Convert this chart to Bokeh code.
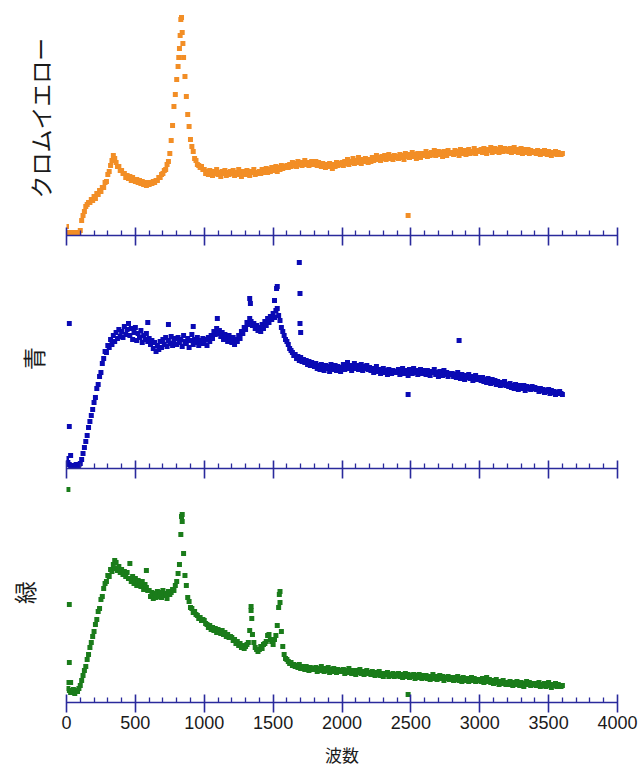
from bokeh.plotting import figure
from bokeh.layouts import column
from bokeh.models import Range1d, FixedTicker
from bokeh.embed import file_html
from bokeh.resources import INLINE

# ---------------- data ----------------
WAVENUMBER = list(range(0, 3601, 10))          # sampling grid (wavenumber)
X_TICKS = [0, 500, 1000, 1500, 2000, 2500, 3000, 3500, 4000]
X_TICK_LABELS = ["0", "500", "1000", "1500", "2000", "2500", "3000", "3500", "4000"]
X_MINOR_TICKS = [t for t in range(0, 4001, 100) if t % 500 != 0]
X_LABEL = "波数"
SERIES_LABELS = ["クロムイエロー", "青", "緑"]

CHROME_YELLOW = (
    [9, 2, 3, 1, 2, 3, 2, 1, 3, 2, 5, 15, 20, 24, 29, 31, 33, 33, 36, 35]
    + [39, 37, 42, 41, 45, 44, 48, 48, 53, 54, 61, 64, 70, 75, 80, 77, 73, 69, 69, 65]
    + [65, 62, 62, 58, 60, 57, 59, 55, 58, 56, 54, 56, 53, 55, 52, 54, 51, 53, 50, 53]
    + [51, 53, 52, 54, 53, 55, 55, 58, 58, 61, 62, 65, 66, 71, 74, 82, 95, 110, 129, 141]
    + [156, 169, 187, 216, 203, 178, 159, 139, 121, 109, 96, 89, 84, 77, 75, 71, 70, 68, 69, 66]
    + [66, 62, 64, 61, 65, 63, 60, 64, 62, 66, 61, 63, 59, 64, 62, 65, 60, 63, 61, 64]
    + [62, 65, 60, 63, 61, 66, 62, 59, 64, 63, 61, 65, 62, 60, 64, 63, 66, 61, 63, 62]
    + [64, 62, 66, 63, 65, 67, 63, 66, 64, 68, 65, 67, 69, 64, 68, 66, 70, 67, 69, 68]
    + [70, 68, 71, 69, 73, 70, 72, 69, 74, 71, 73, 70, 72, 75, 71, 73, 70, 72, 74, 71]
    + [72, 74, 70, 73, 71, 69, 72, 70, 68, 71, 69, 72, 70, 67, 71, 69, 73, 70, 72, 71]
    + [73, 70, 74, 72, 76, 71, 74, 73, 77, 72, 75, 73, 78, 74, 72, 76, 74, 77, 75, 73]
    + [76, 74, 78, 75, 77, 80, 76, 78, 75, 79, 77, 80, 76, 78, 81, 77, 79, 76, 80, 78]
    + [79, 77, 81, 78, 80, 76, 82, 79, 81, 78, 80, 83, 79, 81, 77, 82, 80, 78, 82, 80]
    + [81, 84, 79, 82, 80, 83, 81, 85, 80, 82, 84, 81, 83, 79, 84, 82, 80, 85, 82, 83]
    + [83, 81, 85, 82, 84, 80, 86, 83, 82, 85, 81, 84, 86, 82, 84, 83, 87, 82, 84, 85]
    + [84, 86, 83, 87, 84, 82, 86, 85, 88, 83, 85, 87, 84, 86, 83, 88, 85, 84, 87, 85]
    + [86, 84, 87, 83, 85, 88, 84, 86, 83, 85, 87, 82, 86, 84, 83, 86, 82, 85, 84, 83]
    + [84, 82, 85, 83, 81, 84, 82, 85, 83, 81, 84, 82, 80, 83, 82, 84, 81, 83, 82, 81]
    + [82]
)
CHROME_YELLOW_EXTRA_X = [815, 825, 835, 845, 2480]
CHROME_YELLOW_EXTRA_Y = [178, 200, 218, 192, 20]

BLUE = (
    [10, 6, 4, 3, 2, 3, 2, 4, 3, 4, 5, 9, 15, 21, 27, 33, 41, 47, 53, 59]
    + [66, 71, 80, 84, 92, 96, 105, 110, 117, 116, 123, 121, 129, 124, 133, 127, 136, 130, 139, 132]
    + [137, 131, 142, 134, 139, 145, 133, 140, 129, 136, 141, 128, 135, 131, 138, 126, 133, 129, 135, 127]
    + [130, 124, 128, 120, 126, 117, 123, 119, 127, 121, 129, 124, 131, 122, 128, 125, 132, 123, 127, 130]
    + [124, 131, 126, 129, 122, 133, 127, 125, 130, 121, 128, 134, 124, 129, 126, 131, 123, 128, 125, 130]
    + [125, 129, 123, 131, 127, 133, 130, 137, 134, 140, 135, 138, 132, 136, 129, 134, 131, 127, 133, 129]
    + [126, 131, 124, 129, 127, 133, 130, 137, 135, 141, 139, 146, 144, 150, 147, 143, 145, 140, 143, 138]
    + [141, 137, 144, 140, 147, 143, 150, 146, 152, 149, 155, 151, 158, 160, 153, 148, 141, 137, 133, 129]
    + [127, 124, 120, 118, 116, 113, 114, 110, 112, 108, 111, 107, 109, 106, 108, 104, 107, 103, 106, 104]
    + [102, 105, 100, 103, 99, 104, 101, 98, 103, 100, 102, 97, 104, 99, 101, 103, 98, 102, 100, 97]
    + [101, 104, 99, 102, 106, 100, 103, 98, 102, 105, 100, 103, 99, 101, 104, 98, 102, 100, 103, 99]
    + [101, 98, 100, 96, 99, 102, 97, 99, 95, 98, 100, 96, 98, 94, 99, 97, 95, 98, 96, 97]
    + [96, 99, 94, 97, 100, 95, 98, 96, 93, 99, 97, 95, 100, 96, 98, 94, 97, 99, 95, 98]
    + [97, 94, 98, 95, 93, 97, 96, 99, 94, 96, 92, 97, 95, 93, 98, 94, 96, 92, 95, 94]
    + [95, 92, 94, 91, 96, 93, 90, 94, 92, 89, 93, 91, 94, 90, 92, 88, 91, 93, 89, 91]
    + [90, 88, 91, 87, 89, 86, 90, 88, 85, 89, 86, 88, 84, 87, 85, 83, 86, 84, 87, 83]
    + [84, 82, 85, 81, 83, 80, 84, 82, 79, 83, 81, 80, 83, 78, 82, 80, 81, 79, 82, 80]
    + [81, 79, 80, 77, 80, 78, 79, 76, 78, 77, 79, 75, 78, 76, 77, 74, 76, 75, 77, 75]
    + [74]
)
BLUE_EXTRA_X = [20, 20, 30, 590, 740, 920, 1095, 1330, 1335, 1510, 1525, 1530, 1690, 1695, 1695, 1700, 2480, 2850]
BLUE_EXTRA_Y = [145, 42, 13, 146, 144, 142, 150, 170, 165, 168, 180, 182, 206, 175, 145, 136, 74, 128]

GREEN = (
    [20, 14, 12, 10, 11, 13, 9, 12, 11, 14, 17, 22, 27, 32, 36, 43, 48, 55, 60, 66]
    + [71, 78, 83, 91, 94, 103, 106, 114, 119, 121, 127, 126, 133, 131, 138, 134, 140, 132, 136, 130]
    + [133, 128, 131, 126, 130, 124, 139, 121, 126, 119, 124, 117, 122, 120, 116, 121, 113, 118, 115, 112]
    + [112, 106, 110, 104, 109, 105, 111, 106, 110, 105, 112, 107, 109, 104, 111, 108, 110, 113, 112, 117]
    + [121, 129, 138, 168, 181, 149, 127, 117, 105, 101, 95, 94, 90, 91, 88, 87, 84, 85, 82, 83]
    + [82, 79, 78, 75, 77, 73, 75, 72, 74, 70, 73, 71, 69, 72, 68, 70, 66, 68, 65, 66]
    + [65, 62, 63, 59, 61, 57, 59, 55, 57, 54, 56, 58, 60, 72, 96, 68, 60, 55, 53, 51]
    + [53, 56, 54, 58, 59, 61, 67, 68, 63, 61, 58, 63, 67, 77, 95, 111, 71, 56, 48, 44]
    + [43, 41, 39, 40, 37, 38, 36, 37, 35, 38, 34, 36, 35, 33, 36, 34, 32, 35, 33, 34]
    + [33, 35, 31, 34, 32, 36, 33, 31, 34, 32, 35, 30, 33, 31, 34, 32, 30, 33, 31, 32]
    + [31, 33, 29, 32, 30, 34, 31, 29, 32, 30, 28, 32, 30, 33, 29, 31, 28, 30, 32, 29]
    + [30, 28, 31, 29, 27, 30, 28, 31, 27, 29, 26, 29, 28, 30, 26, 28, 27, 29, 26, 28]
    + [27, 29, 26, 28, 25, 27, 29, 26, 28, 25, 27, 26, 28, 24, 27, 25, 28, 26, 24, 27]
    + [25, 27, 24, 26, 23, 25, 28, 24, 26, 23, 25, 27, 24, 26, 22, 25, 24, 26, 23, 25]
    + [24, 22, 25, 23, 26, 22, 24, 21, 25, 23, 22, 24, 21, 23, 25, 22, 24, 21, 23, 22]
    + [23, 21, 24, 20, 22, 25, 21, 23, 20, 22, 19, 21, 23, 20, 18, 21, 19, 22, 20, 18]
    + [20, 18, 21, 19, 17, 20, 18, 21, 19, 17, 20, 18, 16, 19, 21, 18, 20, 17, 19, 18]
    + [19, 17, 18, 20, 16, 18, 17, 19, 16, 18, 20, 17, 15, 18, 17, 19, 16, 18, 17, 16]
    + [17]
)
GREEN_EXTRA_X = [10, 20, 20, 30, 350, 580, 835, 840, 1340, 1345, 1545, 1550, 2480]
GREEN_EXTRA_Y = [213, 98, 40, 20, 142, 132, 186, 188, 92, 84, 108, 100, 8]

# ---------------- style ----------------
COLORS = ["#f28e26", "#0a0ab4", "#1a7c1a"]
AXIS_COLOR = "#2a2a9c"
JP_FONT = "Noto Sans CJK JP"
NUM_FONT = "Liberation Sans"
FIG_W = 638
LEFT = 66
FRAME_W = 551


def make_panel(xs, ys, ex, ey, color, label, label_standoff, frame_h,
               top, bottom, show_ticklabels):
    p = figure(width=FIG_W, height=top + frame_h + bottom,
               x_range=Range1d(0, 4000), y_range=Range1d(0, frame_h),
               output_backend="svg", toolbar_location=None,
               min_border_left=LEFT, min_border_right=FIG_W - LEFT - FRAME_W,
               min_border_top=top, min_border_bottom=bottom)
    p.xgrid.visible = False
    p.ygrid.visible = False
    p.outline_line_color = None
    p.background_fill_color = "white"
    p.border_fill_color = "white"

    p.scatter(xs, ys, marker="square", size=5, fill_color=color, line_color=None)
    p.scatter(ex, ey, marker="square", size=5, fill_color=color, line_color=None)

    ax = p.xaxis[0]
    ax.ticker = FixedTicker(ticks=X_TICKS, minor_ticks=X_MINOR_TICKS)
    ax.axis_line_color = AXIS_COLOR
    ax.axis_line_width = 1.6
    ax.major_tick_line_color = AXIS_COLOR
    ax.major_tick_line_width = 1.6
    ax.major_tick_in = 8
    ax.major_tick_out = 10
    ax.minor_tick_line_color = AXIS_COLOR
    ax.minor_tick_line_width = 1.3
    ax.minor_tick_in = 5
    ax.minor_tick_out = 0
    ax.major_label_overrides = {t: s for t, s in zip(X_TICKS, X_TICK_LABELS)}
    if show_ticklabels:
        ax.major_label_text_font = NUM_FONT
        ax.major_label_text_font_size = "18px"
        ax.major_label_text_color = "#1a1a1a"
        ax.major_label_standoff = 3
        ax.axis_label = X_LABEL
        ax.axis_label_text_font = JP_FONT
        ax.axis_label_text_font_size = "17px"
        ax.axis_label_text_font_style = "normal"
        ax.axis_label_text_color = "#1a1a1a"
        ax.axis_label_standoff = 10
    else:
        ax.major_label_text_font_size = "1px"
        ax.major_label_text_color = None
        ax.major_label_standoff = 0

    ay = p.yaxis[0]
    ay.ticker = FixedTicker(ticks=[])
    ay.axis_line_color = None
    ay.major_tick_line_color = None
    ay.minor_tick_line_color = None
    ay.major_label_text_color = None
    ay.axis_label = label
    ay.axis_label_text_font = JP_FONT
    ay.axis_label_text_font_size = "23px"
    ay.axis_label_text_font_style = "normal"
    ay.axis_label_text_color = "#1a1a1a"
    ay.axis_label_standoff = label_standoff
    return p


p1 = make_panel(WAVENUMBER, CHROME_YELLOW, CHROME_YELLOW_EXTRA_X, CHROME_YELLOW_EXTRA_Y,
                COLORS[0], SERIES_LABELS[0], 10, 235, 0, 13, False)
p2 = make_panel(WAVENUMBER, BLUE, BLUE_EXTRA_X, BLUE_EXTRA_Y,
                COLORS[1], SERIES_LABELS[1], 17, 220, 0, 14, False)
p3 = make_panel(WAVENUMBER, GREEN, GREEN_EXTRA_X, GREEN_EXTRA_Y,
                COLORS[2], SERIES_LABELS[2], 26, 220, 0, 68, True)

layout = column(p1, p2, p3, spacing=0, width=FIG_W)
open("out.html", "w").write(file_html(layout, INLINE))
